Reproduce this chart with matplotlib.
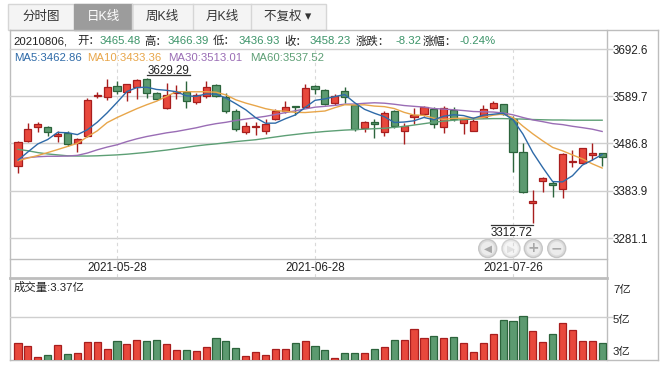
import matplotlib
matplotlib.use("Agg")
import matplotlib.pyplot as plt
from matplotlib.patches import Rectangle, Circle
import numpy as np

FONT = ['Liberation Sans', 'Noto Sans CJK SC', 'DejaVu Sans']
plt.rcParams['font.family'] = FONT

# ---------------- data (SSE composite, daily K, 2021-05-14 .. 2021-08-06) ----------------
tick_pos = [10, 30, 50]
tick_labels = ["2021-05-28", "2021-06-28", "2021-07-26"]

opens = [3438.0, 3492.0, 3522.0, 3522.0, 3502.5, 3510.4, 3487.3, 3503.0, 3589.6, 3587.4,
         3611.4, 3599.6, 3609.2, 3627.3, 3596.1, 3564.8, 3597.0, 3598.3, 3577.9, 3590.3,
         3614.2, 3587.4, 3557.0, 3511.2, 3522.0, 3514.7, 3539.5, 3558.3, 3567.5, 3567.0,
         3612.0, 3602.7, 3574.4, 3601.2, 3570.7, 3520.0, 3534.0, 3511.0, 3557.6, 3513.0,
         3545.0, 3550.4, 3561.3, 3522.1, 3559.8, 3532.0, 3514.7, 3543.9, 3563.5, 3572.2,
         3540.2, 3467.6, 3356.9, 3405.9, 3398.7, 3387.1, 3446.0, 3445.0, 3462.6, 3465.48]
highs = [3491.5, 3530.5, 3533.0, 3524.0, 3514.7, 3514.7, 3498.0, 3585.3, 3599.0, 3627.3,
         3622.9, 3616.0, 3627.0, 3629.29, 3599.0, 3619.0, 3614.0, 3622.0, 3596.0, 3623.6,
         3616.4, 3596.1, 3561.3, 3534.4, 3533.0, 3540.2, 3562.0, 3578.7, 3569.0, 3615.7,
         3613.6, 3605.0, 3594.0, 3609.2, 3572.2, 3535.0, 3539.5, 3558.0, 3560.0, 3532.0,
         3563.5, 3567.8, 3567.0, 3568.0, 3565.5, 3540.2, 3540.0, 3570.4, 3579.8, 3573.0,
         3547.4, 3487.3, 3385.6, 3413.0, 3405.9, 3465.5, 3472.7, 3478.0, 3487.3, 3466.39]
lows = [3422.0, 3491.0, 3512.5, 3503.8, 3489.5, 3481.4, 3469.0, 3501.0, 3585.3, 3581.6,
        3594.0, 3580.0, 3583.0, 3585.3, 3581.6, 3561.3, 3583.0, 3563.5, 3572.9, 3586.6,
        3588.8, 3552.6, 3514.1, 3507.5, 3504.7, 3508.2, 3538.0, 3552.6, 3549.0, 3566.0,
        3594.0, 3570.0, 3570.7, 3574.4, 3513.0, 3511.3, 3498.2, 3503.9, 3520.0, 3485.1,
        3529.3, 3546.7, 3521.0, 3510.0, 3536.0, 3507.5, 3513.0, 3543.0, 3561.0, 3548.6,
        3425.5, 3379.7, 3312.72, 3382.0, 3371.0, 3367.5, 3435.0, 3444.0, 3450.3, 3436.93]
closes = [3490.38, 3517.62, 3529.01, 3510.96, 3506.94, 3486.56, 3497.28, 3581.34, 3593.36, 3608.85,
          3600.78, 3615.48, 3624.71, 3597.14, 3584.22, 3591.84, 3599.54, 3580.11, 3591.40, 3610.86,
          3589.75, 3556.56, 3518.33, 3525.60, 3525.10, 3529.18, 3557.41, 3566.22, 3566.65, 3607.56,
          3606.37, 3573.18, 3591.20, 3588.78, 3518.76, 3534.32, 3530.26, 3553.72, 3525.50, 3524.09,
          3547.84, 3566.57, 3528.50, 3564.59, 3539.30, 3539.12, 3536.79, 3562.70, 3574.73, 3550.40,
          3467.44, 3381.18, 3361.59, 3411.72, 3397.36, 3464.29, 3447.99, 3477.22, 3466.56, 3458.23]
volumes = [3.37, 3.20, 2.51, 2.64, 3.26, 2.70, 2.76, 3.43, 3.43, 2.99,
           3.50, 3.33, 3.56, 3.50, 3.56, 3.31, 2.93, 2.93, 2.87, 3.12,
           3.70, 3.50, 3.06, 2.57, 2.81, 2.64, 2.99, 2.99, 3.37, 3.50,
           3.20, 2.93, 2.45, 2.74, 2.74, 2.74, 3.03, 3.14, 3.56, 3.56,
           4.25, 3.68, 3.83, 3.68, 3.75, 3.37, 2.81, 3.37, 3.93, 4.81,
           4.75, 5.06, 4.12, 3.43, 3.93, 4.62, 4.18, 3.50, 3.50, 3.37]  # 亿

# closes of the 9 sessions before the window (for MA5 / MA10)
prior_closes = [3457.07, 3474.90, 3446.86, 3441.28, 3418.87, 3427.99, 3441.85, 3462.75, 3429.54]
# MA30 for the first 29 sessions (rest computed)
ma30_early = [3452, 3456, 3458, 3459, 3459, 3459.5, 3461, 3466, 3473, 3479,
              3484, 3491, 3497, 3502, 3506, 3510, 3513, 3517, 3521, 3526,
              3530, 3533, 3537, 3540, 3543, 3546, 3550, 3554, 3558]
# MA60
ma60 = [3474, 3471, 3467, 3464, 3462, 3460, 3459.5, 3459.5, 3460, 3461,
        3462, 3463.5, 3465.5, 3467.5, 3470, 3472.5, 3475.5, 3478.5, 3481.5, 3484,
        3486, 3488.5, 3491, 3493, 3495, 3498, 3501, 3504, 3506.5, 3509,
        3511, 3513, 3514.5, 3516, 3517, 3518, 3519, 3520, 3522, 3524,
        3527, 3530, 3533, 3535.5, 3537.5, 3539, 3540, 3540.5, 3541, 3541,
        3540.5, 3540, 3539, 3538.5, 3538, 3538, 3537.5, 3537.5, 3537.5, 3537.52]

price_ticks = [3692.6, 3589.7, 3486.8, 3383.9, 3281.1]
vol_ticks = [7, 5, 3]

# ---------------- derived ----------------
n = len(closes)
allc = prior_closes + closes
off = len(prior_closes)
ma5 = [np.mean(allc[off + i - 4: off + i + 1]) for i in range(n)]
ma10 = [np.mean(allc[off + i - 9: off + i + 1]) for i in range(n)]
ma30 = list(ma30_early) + [np.mean(closes[i - 29: i + 1]) for i in range(len(ma30_early), n)]

# ---------------- figure ----------------
W, H = 666, 369
fig = plt.figure(figsize=(W / 100, H / 100), dpi=100)
fig.patch.set_facecolor('white')


def px_rect(l, t, r, b):
    return [l / W, 1 - b / H, (r - l) / W, (b - t) / H]


ov = fig.add_axes([0, 0, 1, 1])
ov.set_xlim(0, W)
ov.set_ylim(H, 0)
ov.axis('off')

GRID = '#cfcfcf'
BORDER = '#bdbdbd'
TXT = '#222222'
RED_F, RED_E = '#e8483c', '#a81e1e'
GRN_F, GRN_E = '#5c9a70', '#2c643c'
C_MA5, C_MA10, C_MA30, C_MA60 = '#2e6aa8', '#e8a64a', '#9a6db5', '#5d9f75'
VAL_G = '#3c9469'

# ---- tabs ----
ov.add_patch(Rectangle((7.5, 4), 318, 25.5, facecolor='#f4f4f4', edgecolor='#d6d6d6', lw=1))
ov.add_patch(Rectangle((74, 4), 57.7, 25.5, facecolor='#9c9c9c', edgecolor='#9c9c9c', lw=1))
for sx in [131.7, 192.7, 250.7]:
    ov.plot([sx, sx], [4, 29.5], color='#d6d6d6', lw=1)
tabs = [("分时图", 41, '#333333'), ("日K线", 103, 'white'), ("周K线", 162, '#333333'),
        ("月K线", 222, '#333333'), ("不复权 ▾", 288, '#333333')]
for t, cx, c in tabs:
    ov.text(cx, 17, t, ha='center', va='center', fontsize=9, color=c, family=FONT)

# ---- frame ----
ov.plot([10, 658], [30, 30], color=BORDER, lw=1)
ov.plot([10, 10], [30, 360], color=BORDER, lw=1)
ov.plot([607, 607], [30, 360], color=BORDER, lw=1)
ov.plot([658, 658], [30, 360], color=BORDER, lw=1)
ov.plot([10, 658], [360, 360], color=BORDER, lw=1)
ov.plot([10, 607], [259, 259], color=BORDER, lw=1)
ov.plot([10, 607], [277.5, 277.5], color=BORDER, lw=2)

# ---- info row ----
info = [("20210806,", TXT, 13), ("开：", TXT, 77), ("3465.48", VAL_G, 100), ("高：", TXT, 144),
        ("3466.39", VAL_G, 168), ("低：", TXT, 213), ("3436.93", VAL_G, 239), ("收：", TXT, 284),
        ("3458.23", VAL_G, 310), ("涨跌：", TXT, 356), ("-8.32", VAL_G, 395), ("涨幅：", TXT, 423),
        ("-0.24%", VAL_G, 460)]
for t, c, x0 in info:
    ov.text(x0, 41, t, ha='left', va='center', fontsize=8.2, color=c, family=FONT)

legend = [(f"MA5:{ma5[-1]:.2f}", C_MA5, 14), (f"MA10:{ma10[-1]:.2f}", C_MA10, 87),
          (f"MA30:{ma30[-1]:.2f}", C_MA30, 168), (f"MA60:{ma60[-1]:.2f}", C_MA60, 250)]
for t, c, x0 in legend:
    ov.text(x0, 58, t, ha='left', va='center', fontsize=8.2, color=c, family=FONT)

ov.text(14, 287.5, f"成交量:{volumes[-1]:.2f}亿", ha='left', va='center', fontsize=8.2,
        color=TXT, family=FONT)

# ---------------- price axes ----------------
P_TOP, P_BOT = 49, 259
pax = fig.add_axes(px_rect(10, P_TOP, 607, P_BOT))
pax.set_facecolor('none')
xmin, xmax = -0.81, 59.49
ypx = 47.25 / (price_ticks[0] - price_ticks[1])  # pixels per point
ymax = price_ticks[0]
ymin = ymax - (P_BOT - P_TOP) / ypx
pax.set_xlim(xmin, xmax)
pax.set_ylim(ymin, ymax)
pax.axis('off')
xpx = 597 / (xmax - xmin)

for pt in price_ticks:
    pax.axhline(pt, color=GRID, lw=1, zorder=0, clip_on=False)
    pax.plot([xmax, xmax + 5 / xpx], [pt, pt], color=GRID, lw=1, clip_on=False)
    pax.text(xmax + 6 / xpx, pt - 1.6 / ypx, f"{pt:.1f}", ha='left', va='center',
             fontsize=8.4, color=TXT, clip_on=False)
for tp in tick_pos:
    pax.axvline(tp, color='#d9d9d9', lw=0.8, ls=(0, (3, 3)), zorder=0)

x = np.arange(n)
for i in range(n):
    up = closes[i] >= opens[i]
    fc, ec = (RED_F, RED_E) if up else (GRN_F, GRN_E)
    pax.vlines(i, lows[i], highs[i], color=ec, lw=1, zorder=2)
    bot = min(opens[i], closes[i])
    h = max(abs(closes[i] - opens[i]), 1.3 / ypx)
    pax.add_patch(Rectangle((i - 0.36, bot), 0.72, h, facecolor=fc, edgecolor=ec, lw=0.9, zorder=3))

pax.plot(x, ma60, color=C_MA60, lw=1.0, zorder=4)
pax.plot(x, ma30, color=C_MA30, lw=1.0, zorder=4)
pax.plot(x, ma10, color=C_MA10, lw=1.0, zorder=4)
pax.plot(x, ma5, color=C_MA5, lw=1.0, zorder=4)

imax = int(np.argmax(highs))
hmax = highs[imax]
ly = hmax + 3 / ypx
pax.plot([imax, imax + 43 / xpx], [ly, ly], color='#333333', lw=0.9, zorder=5)
pax.text(imax + 21.5 / xpx, ly + 1.2 / ypx, f"{hmax:.2f}", ha='center', va='baseline',
         fontsize=8.4, color=TXT, zorder=5)
imin = int(np.argmin(lows))
lmin = lows[imin]
ly = lmin - 1.8 / ypx
pax.plot([imin - 42 / xpx, imin], [ly, ly], color='#333333', lw=0.9, zorder=5)
pax.text(imin - 21 / xpx, ly - 1.5 / ypx, f"{lmin:.2f}", ha='center', va='top',
         fontsize=8.4, color=TXT, zorder=5)

# navigation buttons
for cx, dis, g in [(487.7, False, '◀'), (511, True, '▶'), (533.3, False, '+'), (556.7, False, '−')]:
    ov.add_patch(Circle((cx, 248.5), 9, facecolor='#e9e9e9' if dis else '#dcdcdc',
                        edgecolor='#d0d0d0' if dis else '#c6c6c6', lw=1, zorder=3))
    ov.add_patch(Circle((cx, 248.5), 6.8, facecolor='#f5f5f5' if dis else '#ececec',
                        edgecolor='none', zorder=3))
    ov.text(cx, 248.5, g, ha='center', va='center', fontsize=7.5 if g in '◀▶' else 10,
            color='#e0e0e0' if dis else '#a8a8a8', family=['DejaVu Sans'], zorder=4,
            fontweight='bold')

# ---------------- date row ----------------
dax = fig.add_axes(px_rect(10, P_BOT, 607, 277))
dax.set_facecolor('none')
dax.set_xlim(xmin, xmax)
dax.set_ylim(0, 1)
dax.axis('off')
for tp, tl in zip(tick_pos, tick_labels):
    dax.axvline(tp, color='#d9d9d9', lw=0.8, ls=(0, (3, 3)), zorder=0)
    dax.text(tp, 0.5, tl, ha='center', va='center', fontsize=8.4, color=TXT, zorder=2)

# ---------------- volume axes ----------------
V_TOP, V_BOT = 277.5, 359.5
vax = fig.add_axes(px_rect(10, V_TOP, 607, V_BOT))
vax.set_facecolor('none')
vpx = 15.95
v5y = 317.3
vax.set_xlim(xmin, xmax)
vax.set_ylim(5 - (V_BOT - v5y) / vpx, 5 + (v5y - V_TOP) / vpx)
vax.axis('off')
vax.axhline(5, color=GRID, lw=1, zorder=0)
vax.plot([xmax, xmax + 5 / xpx], [5, 5], color=GRID, lw=1, clip_on=False)
for vt in vol_ticks:
    yv = vt
    if vt == vol_ticks[0]:
        yv = vt - 0.15
    vax.text(xmax + 6 / xpx, yv - 2.5 / vpx, f"{vt}亿", ha='left', va='center', fontsize=8.2,
             color=TXT, clip_on=False, family=FONT)
vcol_f = [RED_F if closes[i] >= opens[i] else GRN_F for i in range(n)]
vcol_e = [RED_E if closes[i] >= opens[i] else GRN_E for i in range(n)]
vax.bar(x, volumes, width=0.72, color=vcol_f, edgecolor=vcol_e, lw=0.9, zorder=2)

fig.savefig("out.png", dpi=100, facecolor='white')
